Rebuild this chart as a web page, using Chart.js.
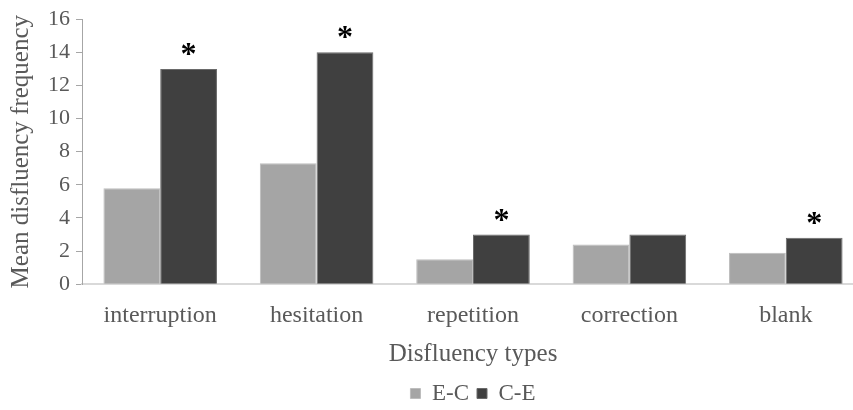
<!DOCTYPE html>
<html>
<head>
<meta charset="utf-8">
<script src="https://cdn.jsdelivr.net/npm/chart.js@4"></script>
<style>
  html, body { margin: 0; padding: 0; background: #fff; overflow: hidden; }
  #wrap { width: 864px; height: 410px; }
</style>
</head>
<body>
<div id="wrap"><canvas id="disfluencyChart"></canvas></div>
<script>
// Data
const categories = ['interruption', 'hesitation', 'repetition', 'correction', 'blank'];
const ecValues = [5.8, 7.3, 1.5, 2.4, 1.9];
const ceValues = [13, 14, 3, 3, 2.8];
// categories marked with an asterisk above the C-E bar
const significant = [true, true, true, false, true];
const yTicks = [0, 2, 4, 6, 8, 10, 12, 14, 16];

const textColor = '#595959';
const serif = "'Liberation Serif', 'Times New Roman', serif";

// Plugin to draw the asterisks over the C-E bars
const starPlugin = {
    id: 'stars',
    afterDatasetsDraw(chart) {
        const ctx = chart.ctx;
        const meta = chart.getDatasetMeta(1);
        ctx.save();
        ctx.fillStyle = '#000';
        ctx.font = 'bold 32px ' + serif;
        ctx.textAlign = 'center';
        ctx.textBaseline = 'alphabetic';
        meta.data.forEach((bar, i) => {
            if (significant[i]) {
                ctx.fillText('*', bar.x, bar.y - 5);
            }
        });
        ctx.restore();
    }
};

const ctx = document.getElementById('disfluencyChart').getContext('2d');

const chart = new Chart(ctx, {
    type: 'bar',
    data: {
        labels: categories,
        datasets: [{
            label: 'E-C',
            data: ecValues,
            backgroundColor: '#a5a5a5',
            borderColor: '#bdbdbd',
            borderWidth: 1,
            barPercentage: 1,
            categoryPercentage: 0.726
        }, {
            label: 'C-E',
            data: ceValues,
            backgroundColor: '#404040',
            borderColor: '#6a6a6a',
            borderWidth: 1,
            barPercentage: 1,
            categoryPercentage: 0.726
        }]
    },
    options: {
        responsive: true,
        maintainAspectRatio: false,
        animation: false,
        layout: {
            padding: { top: 2, right: 0, bottom: -5, left: 6 }
        },
        plugins: {
            legend: {
                position: 'bottom',
                fullSize: false,
                labels: {
                    color: textColor,
                    font: { family: serif, size: 23 },
                    boxWidth: 10,
                    boxHeight: 10,
                    padding: 8
                }
            },
            tooltip: { enabled: false }
        },
        scales: {
            x: {
                grid: { display: false },
                border: { display: true, color: '#d9d9d9', width: 2 },
                ticks: {
                    color: textColor,
                    font: { family: serif, size: 24 },
                    padding: 9
                },
                title: {
                    display: true,
                    text: 'Disfluency types',
                    color: textColor,
                    font: { family: serif, size: 25 },
                    padding: { top: 0, bottom: 5 }
                }
            },
            y: {
                min: 0,
                max: 16,
                afterBuildTicks(scale) {
                    scale.ticks = yTicks.map(v => ({ value: v }));
                },
                grid: {
                    drawOnChartArea: false,
                    drawTicks: true,
                    tickLength: 6,
                    color: '#a6a6a6'
                },
                border: { display: true, color: '#a6a6a6' },
                ticks: {
                    color: textColor,
                    font: { family: serif, size: 22 },
                    padding: 6
                },
                title: {
                    display: true,
                    text: 'Mean disfluency frequency',
                    color: textColor,
                    font: { family: serif, size: 25 },
                    padding: { top: 0, bottom: 6 }
                }
            }
        }
    },
    plugins: [starPlugin]
});
</script>
</body>
</html>
